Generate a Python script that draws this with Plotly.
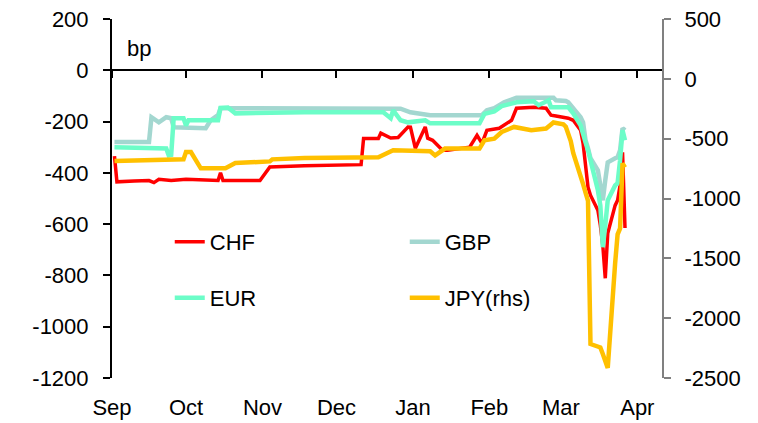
import plotly.graph_objects as go

# ---------------- data ----------------
chf_dates = ["2019-09-02","2019-09-03","2019-09-10","2019-09-16","2019-09-18","2019-09-20","2019-09-25",
             "2019-10-01","2019-10-14","2019-10-15","2019-10-16","2019-10-31","2019-11-04","2019-11-18",
             "2019-12-11","2019-12-12","2019-12-18","2019-12-19","2019-12-23","2019-12-26","2019-12-30",
             "2019-12-31","2020-01-02","2020-01-06","2020-01-07","2020-01-09","2020-01-13","2020-01-15",
             "2020-01-24","2020-01-27","2020-01-29","2020-01-31","2020-02-05","2020-02-07","2020-02-10",
             "2020-02-12","2020-02-19","2020-02-24","2020-02-26","2020-02-28","2020-03-02","2020-03-04",
             "2020-03-06","2020-03-09","2020-03-10","2020-03-11","2020-03-12","2020-03-13","2020-03-16",
             "2020-03-17","2020-03-18","2020-03-19","2020-03-20","2020-03-23","2020-03-24","2020-03-25",
             "2020-03-26","2020-03-27"]
chf_vals = [-335,-435,-432,-430,-438,-425,-430,
            -425,-430,-400,-430,-430,-377,-372,
            -368,-266,-266,-245,-264,-262,-221,
            -222,-304,-221,-265,-273,-312,-312,
            -300,-254,-285,-234,-226,-215,-195,
            -148,-144,-148,-175,-178,-183,-187,
            -195,-234,-285,-370,-456,-487,-546,
            -604,-683,-811,-636,-527,-507,-448,
            -320,-615]

gbp_dates = ["2019-09-02","2019-09-16","2019-09-17","2019-09-20","2019-09-23","2019-09-25","2019-09-26",
             "2019-10-09","2019-10-11","2019-10-14","2019-10-15","2019-11-15","2019-12-27","2019-12-31",
             "2020-01-08","2020-01-29","2020-01-31","2020-02-03","2020-02-07","2020-02-12","2020-02-27",
             "2020-02-28","2020-03-02","2020-03-03","2020-03-04","2020-03-05","2020-03-06","2020-03-09",
             "2020-03-10","2020-03-11","2020-03-12","2020-03-13","2020-03-16","2020-03-17","2020-03-18",
             "2020-03-19","2020-03-20","2020-03-23","2020-03-24","2020-03-25","2020-03-26","2020-03-27"]
gbp_vals = [-280,-280,-183,-203,-183,-187,-222,
            -226,-195,-175,-148,-150,-150,-164,
            -175,-175,-156,-148,-125,-107,-107,
            -117,-117,-120,-125,-136,-148,-183,
            -203,-273,-304,-343,-390,-448,-507,
            -429,-359,-343,-339,-312,-226,-234]

eur_dates = ["2019-09-02","2019-09-23","2019-09-24","2019-09-25","2019-09-26","2019-09-30","2019-10-01",
             "2019-10-02","2019-10-14","2019-10-15","2019-10-18","2019-10-21","2019-11-18","2019-12-20",
             "2019-12-23","2019-12-24","2019-12-27","2019-12-30","2020-01-06","2020-01-08","2020-01-28",
             "2020-01-30","2020-02-03","2020-02-06","2020-02-12","2020-02-19","2020-02-21","2020-02-25",
             "2020-02-26","2020-03-04","2020-03-05","2020-03-06","2020-03-09","2020-03-10","2020-03-11",
             "2020-03-12","2020-03-13","2020-03-16","2020-03-17","2020-03-18","2020-03-19","2020-03-20",
             "2020-03-23","2020-03-24","2020-03-25","2020-03-26","2020-03-27"]
eur_vals = [-300,-305,-332,-330,-187,-187,-215,
            -195,-195,-147,-145,-168,-164,-164,
            -187,-156,-195,-203,-195,-207,-207,
            -170,-160,-140,-125,-121,-136,-117,
            -144,-144,-156,-168,-215,-254,-281,
            -312,-351,-468,-527,-690,-605,-507,
            -449,-440,-351,-234,-273]

jpy_dates = ["2019-09-02","2019-09-30","2019-10-01","2019-10-03","2019-10-07","2019-10-17","2019-10-21",
             "2019-11-04","2019-11-05","2019-11-18","2019-12-18","2019-12-20","2019-12-24","2020-01-08",
             "2020-01-10","2020-01-14","2020-01-28","2020-01-30","2020-02-03","2020-02-06","2020-02-11",
             "2020-02-18","2020-02-24","2020-02-27","2020-03-02","2020-03-03","2020-03-04","2020-03-05",
             "2020-03-06","2020-03-09","2020-03-10","2020-03-11","2020-03-12","2020-03-13","2020-03-16",
             "2020-03-17","2020-03-18","2020-03-19","2020-03-20","2020-03-23","2020-03-24","2020-03-25",
             "2020-03-26","2020-03-27"]
jpy_vals = [-687,-673,-612,-612,-748,-748,-704,
            -690,-673,-662,-655,-634,-597,-606,
            -640,-583,-583,-514,-500,-444,-402,
            -430,-415,-365,-380,-400,-460,-520,
            -620,-800,-880,-950,-1020,-2216,-2233,
            -2245,-2300,-2355,-2416,-1540,-1300,-1250,
            -706,-740]

month_ticks = ["2019-09-01","2019-10-01","2019-11-01","2019-12-01","2020-01-01",
               "2020-02-01","2020-03-01","2020-04-01"]
month_labels = ["Sep","Oct","Nov","Dec","Jan","Feb","Mar","Apr"]

left_ticks = [200, 0, -200, -400, -600, -800, -1000, -1200]
left_labels = ["200", "0", "-200", "-400", "-600", "-800", "-1000", "-1200"]
right_ticks = [500, 0, -500, -1000, -1500, -2000, -2500]
right_labels = ["500", "0", "-500", "-1000", "-1500", "-2000", "-2500"]

left_range = [-1200, 200]
right_range = [-2500, 500]
x_range = ["2019-09-01", "2020-04-11"]

FONT = "Liberation Sans, Arial, sans-serif"

fig = go.Figure()
fig.add_trace(go.Scatter(x=chf_dates, y=chf_vals, name="CHF", mode="lines",
                         line=dict(color="#FF0000", width=3.5), legend="legend"))
fig.add_trace(go.Scatter(x=gbp_dates, y=gbp_vals, name="GBP", mode="lines",
                         line=dict(color="#A3D7D0", width=4.5), legend="legend"))
fig.add_trace(go.Scatter(x=eur_dates, y=eur_vals, name="EUR", mode="lines",
                         line=dict(color="#6CFDC8", width=4.5), legend="legend2"))
fig.add_trace(go.Scatter(x=jpy_dates, y=jpy_vals, name="JPY(rhs)", mode="lines",
                         line=dict(color="#FFC000", width=4.5), yaxis="y2", legend="legend2"))
# empty helper trace so the zero-line x axis exists
fig.add_trace(go.Scatter(x=[], y=[], xaxis="x2", yaxis="y", showlegend=False, hoverinfo="skip"))

zero_pos = (0 - left_range[0]) / (left_range[1] - left_range[0])

fig.update_layout(
    width=758, height=423,
    margin=dict(l=112, r=96, t=19, b=45),
    plot_bgcolor="white", paper_bgcolor="white",
    font=dict(family=FONT, size=22, color="black"),
    xaxis=dict(type="date", range=x_range, tickvals=month_ticks, ticktext=month_labels,
               showline=False, showgrid=False, zeroline=False, ticks="", automargin=False,
               ticklabelstandoff=14, tickfont=dict(size=22)),
    xaxis2=dict(type="date", range=x_range, overlaying="x", anchor="free", position=zero_pos,
                tickvals=month_ticks, showticklabels=False, showline=True, linecolor="black",
                linewidth=2, ticks="outside", ticklen=7, tickwidth=2, tickcolor="black",
                showgrid=False, zeroline=False, automargin=False),
    yaxis=dict(range=left_range, tickvals=left_ticks, ticktext=left_labels,
               showline=True, linecolor="black", linewidth=2,
               ticks="outside", ticklen=7, tickwidth=2, tickcolor="black", automargin=False,
               showgrid=False, zeroline=False, ticklabelstandoff=10, tickfont=dict(size=22)),
    yaxis2=dict(range=right_range, tickvals=right_ticks, ticktext=right_labels,
                overlaying="y", side="right", showline=True,
                linecolor="#808080", linewidth=2, ticks="outside", ticklen=7, tickwidth=2,
                tickcolor="#808080", showgrid=False, zeroline=False, ticklabelstandoff=9,
                automargin=False, tickfont=dict(size=22, color="black")),
    legend=dict(orientation="h", x=0.105, xanchor="left", y=0.379, yanchor="middle",
                entrywidth=190, bgcolor="rgba(0,0,0,0)", font=dict(size=22)),
    legend2=dict(orientation="h", x=0.105, xanchor="left", y=0.223, yanchor="middle",
                 entrywidth=190, bgcolor="rgba(0,0,0,0)", font=dict(size=22)),
    annotations=[dict(text="bp", xref="paper", yref="paper", x=0.024, y=0.919,
                      xanchor="left", yanchor="middle", showarrow=False, font=dict(size=22))],
    showlegend=True,
)

fig.write_html("out.html", config={"displayModeBar": False},
               post_script="document.body.style.margin='0px';")
